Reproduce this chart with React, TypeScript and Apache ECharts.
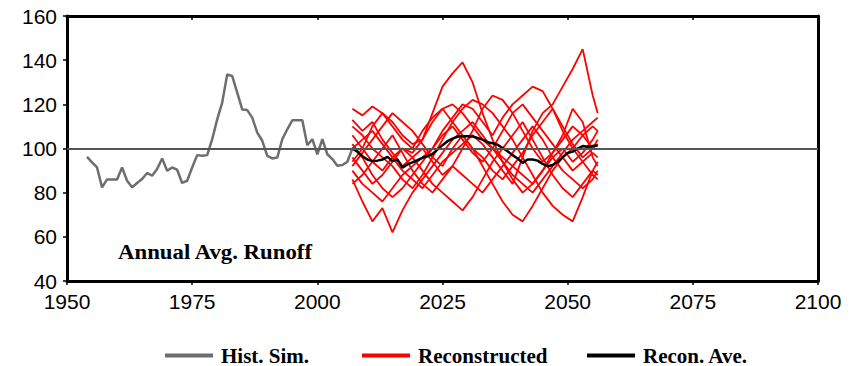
import { useEffect, useRef } from "react";
import * as echarts from "echarts";

const histYears = [1954,1955,1956,1957,1958,1959,1960,1961,1962,1963,1964,1965,1966,1967,1968,1969,1970,1971,1972,1973,1974,1975,1976,1977,1978,1979,1980,1981,1982,1983,1984,1985,1986,1987,1988,1989,1990,1991,1992,1993,1994,1995,1996,1997,1998,1999,2000,2001,2002,2003,2004,2005,2006,2007];
const histValues = [96.2,93.7,91.4,82.4,86,86,86,91.4,85.4,82.4,84.4,86.2,88.9,87.7,90.7,95.5,89.9,91.4,90.4,84.4,85.4,91.4,97,96.7,97,104.2,113.2,120.8,133.5,132.8,125.3,117.7,117.4,114,107.2,103.5,96.7,95.5,95.9,104.2,108.7,112.8,112.8,112.8,101.5,104.2,97.4,104.2,97.4,95.2,92.2,92.5,94,100];

const reconYears = [2007,2009,2011,2013,2015,2017,2019,2021,2023,2025,2027,2029,2031,2033,2035,2037,2039,2041,2043,2045,2047,2049,2051,2053,2055,2056];
const recon1 = [118,115,119,116,112,106,102,104,112,118,120,116,110,104,100,96,92,98,106,112,118,110,102,96,100,104];
const recon2 = [86,76,67,73,62,72,80,86,92,98,104,108,112,106,100,94,88,84,80,86,92,98,104,108,112,114];
const recon3 = [106,100,94,90,96,100,98,104,116,128,134,139,130,116,104,94,86,80,84,90,96,100,94,98,104,108];
const recon4 = [100,104,108,102,96,90,86,82,88,94,98,102,106,102,96,90,84,96,108,116,120,128,136,145,124,116];
const recon5 = [96,90,84,88,94,100,96,90,84,80,76,72,78,86,94,100,106,112,104,96,88,82,78,84,90,88];
const recon6 = [92,98,104,110,116,112,108,102,96,92,100,106,100,92,84,76,70,67,74,82,90,96,90,94,98,96];
const recon7 = [110,106,100,96,92,86,82,88,96,104,112,118,122,120,116,110,104,96,88,80,74,70,67,78,90,94];
const recon8 = [90,84,80,76,82,88,92,96,100,108,114,120,118,112,106,114,120,124,128,126,118,108,100,94,88,86];
const recon9 = [113,108,112,104,98,92,96,100,94,88,92,100,108,118,124,122,116,108,100,94,98,104,110,106,100,102];
const recon10 = [84,88,94,100,106,98,90,84,80,86,92,88,84,80,86,92,98,104,110,104,96,90,86,82,86,90];
const recon11 = [102,96,88,82,78,82,88,94,100,106,110,104,98,94,100,108,116,120,114,108,102,96,100,106,110,108];
const recon12 = [94,100,110,116,110,104,100,108,114,118,112,106,100,96,90,86,92,88,84,90,98,106,118,112,96,92];
const reconSeries = [recon1,recon2,recon3,recon4,recon5,recon6,recon7,recon8,recon9,recon10,recon11,recon12];

const aveYears = [2007,2008,2009,2010,2011,2012,2013,2014,2015,2016,2017,2018,2019,2020,2021,2022,2023,2024,2025,2026,2027,2028,2029,2030,2031,2032,2033,2034,2035,2036,2037,2038,2039,2040,2041,2042,2043,2044,2045,2046,2047,2048,2049,2050,2051,2052,2053,2054,2055,2056];
const aveValues = [100,98.5,96.5,95,94.3,94.5,95,96.2,94.3,95,91.3,92.8,93.7,94.7,95.8,96.5,97.5,99.5,101.5,103.3,104.5,105.3,105.6,105.6,105.4,104.8,104,102.9,102.4,101.7,100.2,98.8,97,95.5,93.5,95,95,94.5,93,92,92.5,94,96,98,98.6,100,101.1,100.8,101.1,101.4];

const referenceLevel = 100;

const zip = (xs: number[], ys: number[]) => xs.map((x, i) => [x, ys[i]]);

export default function App() {
  const ref = useRef<HTMLDivElement>(null);
  useEffect(() => {
    document.body.style.margin = "0";
    const chart = echarts.init(ref.current!, null, { renderer: "svg" });
    const axisLine = { show: true, onZero: false, lineStyle: { color: "#000", width: 3 } };
    const labelFont = { color: "#000", fontFamily: "Liberation Sans", fontSize: 21 };
    const legendText = { color: "#000", fontFamily: "Liberation Serif", fontWeight: "bold" as const, fontSize: 21, lineHeight: 20, padding: [0, 0, 0, 3] };
    const red = "#ff0000";
    const legendCommon = { top: 345, icon: "rect", itemWidth: 48, itemHeight: 4, textStyle: legendText, padding: 0 };
    chart.setOption({
      animation: false,
      grid: { left: 67, right: 41, top: 16, bottom: 85 },
      xAxis: [
        {
          type: "value", min: 1950, max: 2100, interval: 25, position: "bottom",
          axisLine, axisTick: { show: true, length: 4, lineStyle: { color: "#000", width: 1.5 } },
          axisLabel: { ...labelFont, margin: 10, formatter: (v: number) => String(v) },
          splitLine: { show: false },
        },
        {
          type: "value", min: 1950, max: 2100, interval: 25, position: "top",
          axisLine, axisTick: { show: true, inside: true, length: 4, lineStyle: { color: "#000", width: 1.5 } },
          axisLabel: { show: false }, splitLine: { show: false },
        },
      ],
      yAxis: [
        {
          type: "value", min: 40, max: 160, interval: 20, position: "left",
          axisLine, axisTick: { show: true, length: 4, lineStyle: { color: "#000", width: 1.5 } },
          axisLabel: { ...labelFont, margin: 10 }, splitLine: { show: false },
        },
        {
          type: "value", min: 40, max: 160, interval: 20, position: "right",
          axisLine, axisTick: { show: false }, axisLabel: { show: false }, splitLine: { show: false },
        },
      ],
      legend: [
        { ...legendCommon, data: ["Hist. Sim."], left: 165 },
        { ...legendCommon, data: ["Reconstructed"], left: 362 },
        { ...legendCommon, data: ["Recon. Ave."], left: 587 },
      ],
      graphic: [
        { type: "text", x: 118, y: 242, scaleX: 1.14, style: { text: "Annual Avg. Runoff", font: 'bold 20px "Liberation Serif"', fill: "#000" } },
      ],
      series: [
        ...reconSeries.map((vals) => ({
          name: "Reconstructed", type: "line", data: zip(reconYears, vals), symbol: "none",
          lineStyle: { color: red, width: 1.8 }, itemStyle: { color: red },
        })),
        {
          name: "Hist. Sim.", type: "line", data: zip(histYears, histValues), symbol: "none",
          lineStyle: { color: "#6e6e6e", width: 2.5 }, itemStyle: { color: "#6e6e6e" },
          markLine: {
            silent: true, symbol: "none", label: { show: false },
            lineStyle: { color: "#555", width: 2, type: "solid" },
            data: [{ yAxis: referenceLevel }],
          },
        },
        {
          name: "Recon. Ave.", type: "line", data: zip(aveYears, aveValues), symbol: "none",
          lineStyle: { color: "#000", width: 2.5 }, itemStyle: { color: "#000" },
        },
      ],
    });
    return () => chart.dispose();
  }, []);
  return <div ref={ref} style={{ width: 859, height: 366 }} />;
}
